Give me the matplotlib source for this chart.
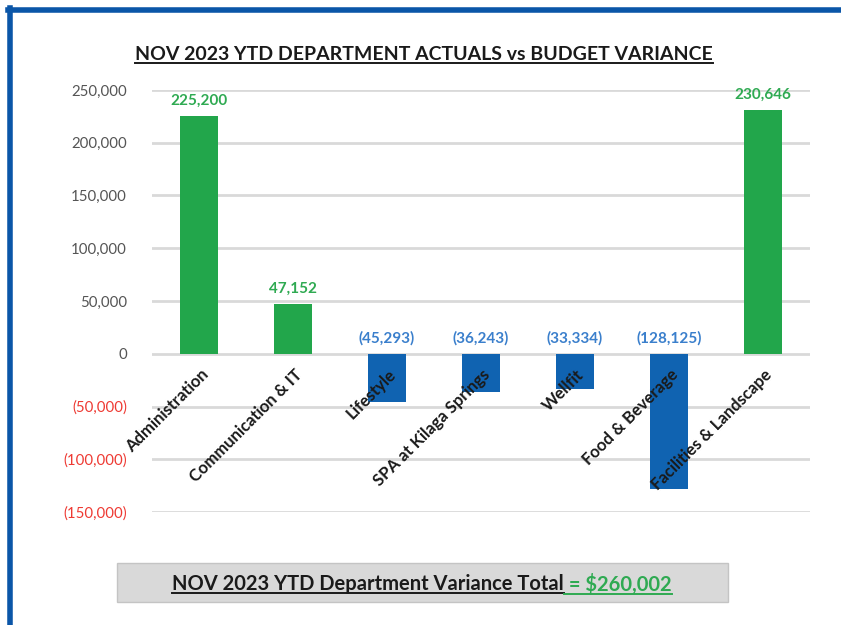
import matplotlib
matplotlib.use("Agg")
import matplotlib.pyplot as plt
from matplotlib.lines import Line2D
from matplotlib.patches import Rectangle
from matplotlib.ticker import FuncFormatter

plt.rcParams['font.family'] = ['Lato', 'DejaVu Sans']

# data
departments = ["Administration", "Communication & IT", "Lifestyle", "SPA at Kilaga Springs",
               "Wellfit", "Food & Beverage", "Facilities & Landscape"]
variance = [225200, 47152, -45293, -36243, -33334, -128125, 230646]
y_ticks = [-150000, -100000, -50000, 0, 50000, 100000, 150000, 200000, 250000]
title = "NOV 2023 YTD DEPARTMENT ACTUALS vs BUDGET VARIANCE"
total_label = "NOV 2023 YTD Department Variance Total"
total_value = " = $260,002"

GREEN = "#22a64b"
BLUE = "#1063b1"
BLUE_LBL = "#3a7fcc"
GREEN_LBL = "#2faa52"
BORDER = "#0b56a8"


def fmt_num(v):
    if v < 0:
        return f"({abs(v):,.0f})"
    return f"{v:,.0f}"


fig = plt.figure(figsize=(8.41, 6.25), dpi=100)
ax = fig.add_axes([152 / 841, 1 - 512 / 625, 658 / 841, 422 / 625])

colors = [GREEN if v >= 0 else BLUE for v in variance]
x = list(range(len(departments)))
ax.bar(x, variance, width=0.4, color=colors, zorder=3)

ax.set_xlim(-0.5, len(departments) - 0.5)
ax.set_ylim(-150000, 250000)
ax.set_yticks(y_ticks)
ax.yaxis.set_major_formatter(FuncFormatter(lambda v, p: fmt_num(v)))
ax.tick_params(axis='y', length=0, pad=18, labelsize=10.8)
for lbl, v in zip(ax.get_yticklabels(), y_ticks):
    lbl.set_color("#ee3a33" if v < 0 else "#555555")
ax.set_xticks([])
ax.grid(axis='y', color="#d9d9d9", linewidth=2, zorder=0)
for s in ax.spines.values():
    s.set_visible(False)

# value labels
for i, v in enumerate(variance):
    base = v if v > 0 else 0
    ax.annotate(fmt_num(v), (i, base), xytext=(0, 6), textcoords="offset points",
                ha="center", va="bottom", fontsize=11, fontweight="bold",
                color=GREEN_LBL if v >= 0 else BLUE_LBL, zorder=4)

# category labels, rotated
for i, name in enumerate(departments):
    ax.text(i + 0.01, -12000, name, rotation=45, rotation_mode="anchor",
            ha="right", va="top", fontsize=12, fontweight="bold",
            color="#1a1a1a", zorder=5)

# title
t = fig.text(424 / 841, 1 - 55 / 625, title, ha="center", va="center",
             fontsize=14, fontweight="bold", color="#1a1a1a")

# bottom box
fig.add_artist(Rectangle((117 / 841, 1 - 602 / 625), 611 / 841, 39 / 625,
                         transform=fig.transFigure, facecolor="#d9d9d9",
                         edgecolor="#c4c4c4", linewidth=1))
t1 = fig.text(0, 1 - 584 / 625, total_label, ha="left", va="center",
              fontsize=14.5, fontweight="bold", color="#1a1a1a")
t2 = fig.text(0, 1 - 584 / 625, total_value, ha="left", va="center",
              fontsize=14.5, fontweight="bold", color=GREEN_LBL)

fig.canvas.draw()
r = fig.canvas.get_renderer()
w1 = t1.get_window_extent(r).width
w2 = t2.get_window_extent(r).width
start = 422 - (w1 + w2) / 2
t1.set_x(start / 841)
t2.set_x((start + w1) / 841)
fig.canvas.draw()
bb1 = t1.get_window_extent(r)
bb2 = t2.get_window_extent(r)
bbt = t.get_window_extent(r)

# underlines
def underline(bb, color, lw):
    yy = bb.y0 + 1
    fig.add_artist(Line2D([bb.x0 / 841, bb.x1 / 841], [yy / 625, yy / 625],
                          transform=fig.transFigure, color=color, linewidth=lw))

underline(bbt, "#1a1a1a", 1.4)
underline(bb1, "#1a1a1a", 1.4)
underline(bb2, GREEN_LBL, 1.4)

# blue frame on top and left
fig.add_artist(Line2D([8 / 841, 1], [1 - 10 / 625, 1 - 10 / 625],
                      transform=fig.transFigure, color=BORDER, linewidth=4))
fig.add_artist(Line2D([10 / 841, 10 / 841], [0, 1 - 8 / 625],
                      transform=fig.transFigure, color=BORDER, linewidth=4))

fig.savefig("out.png", dpi=100)
